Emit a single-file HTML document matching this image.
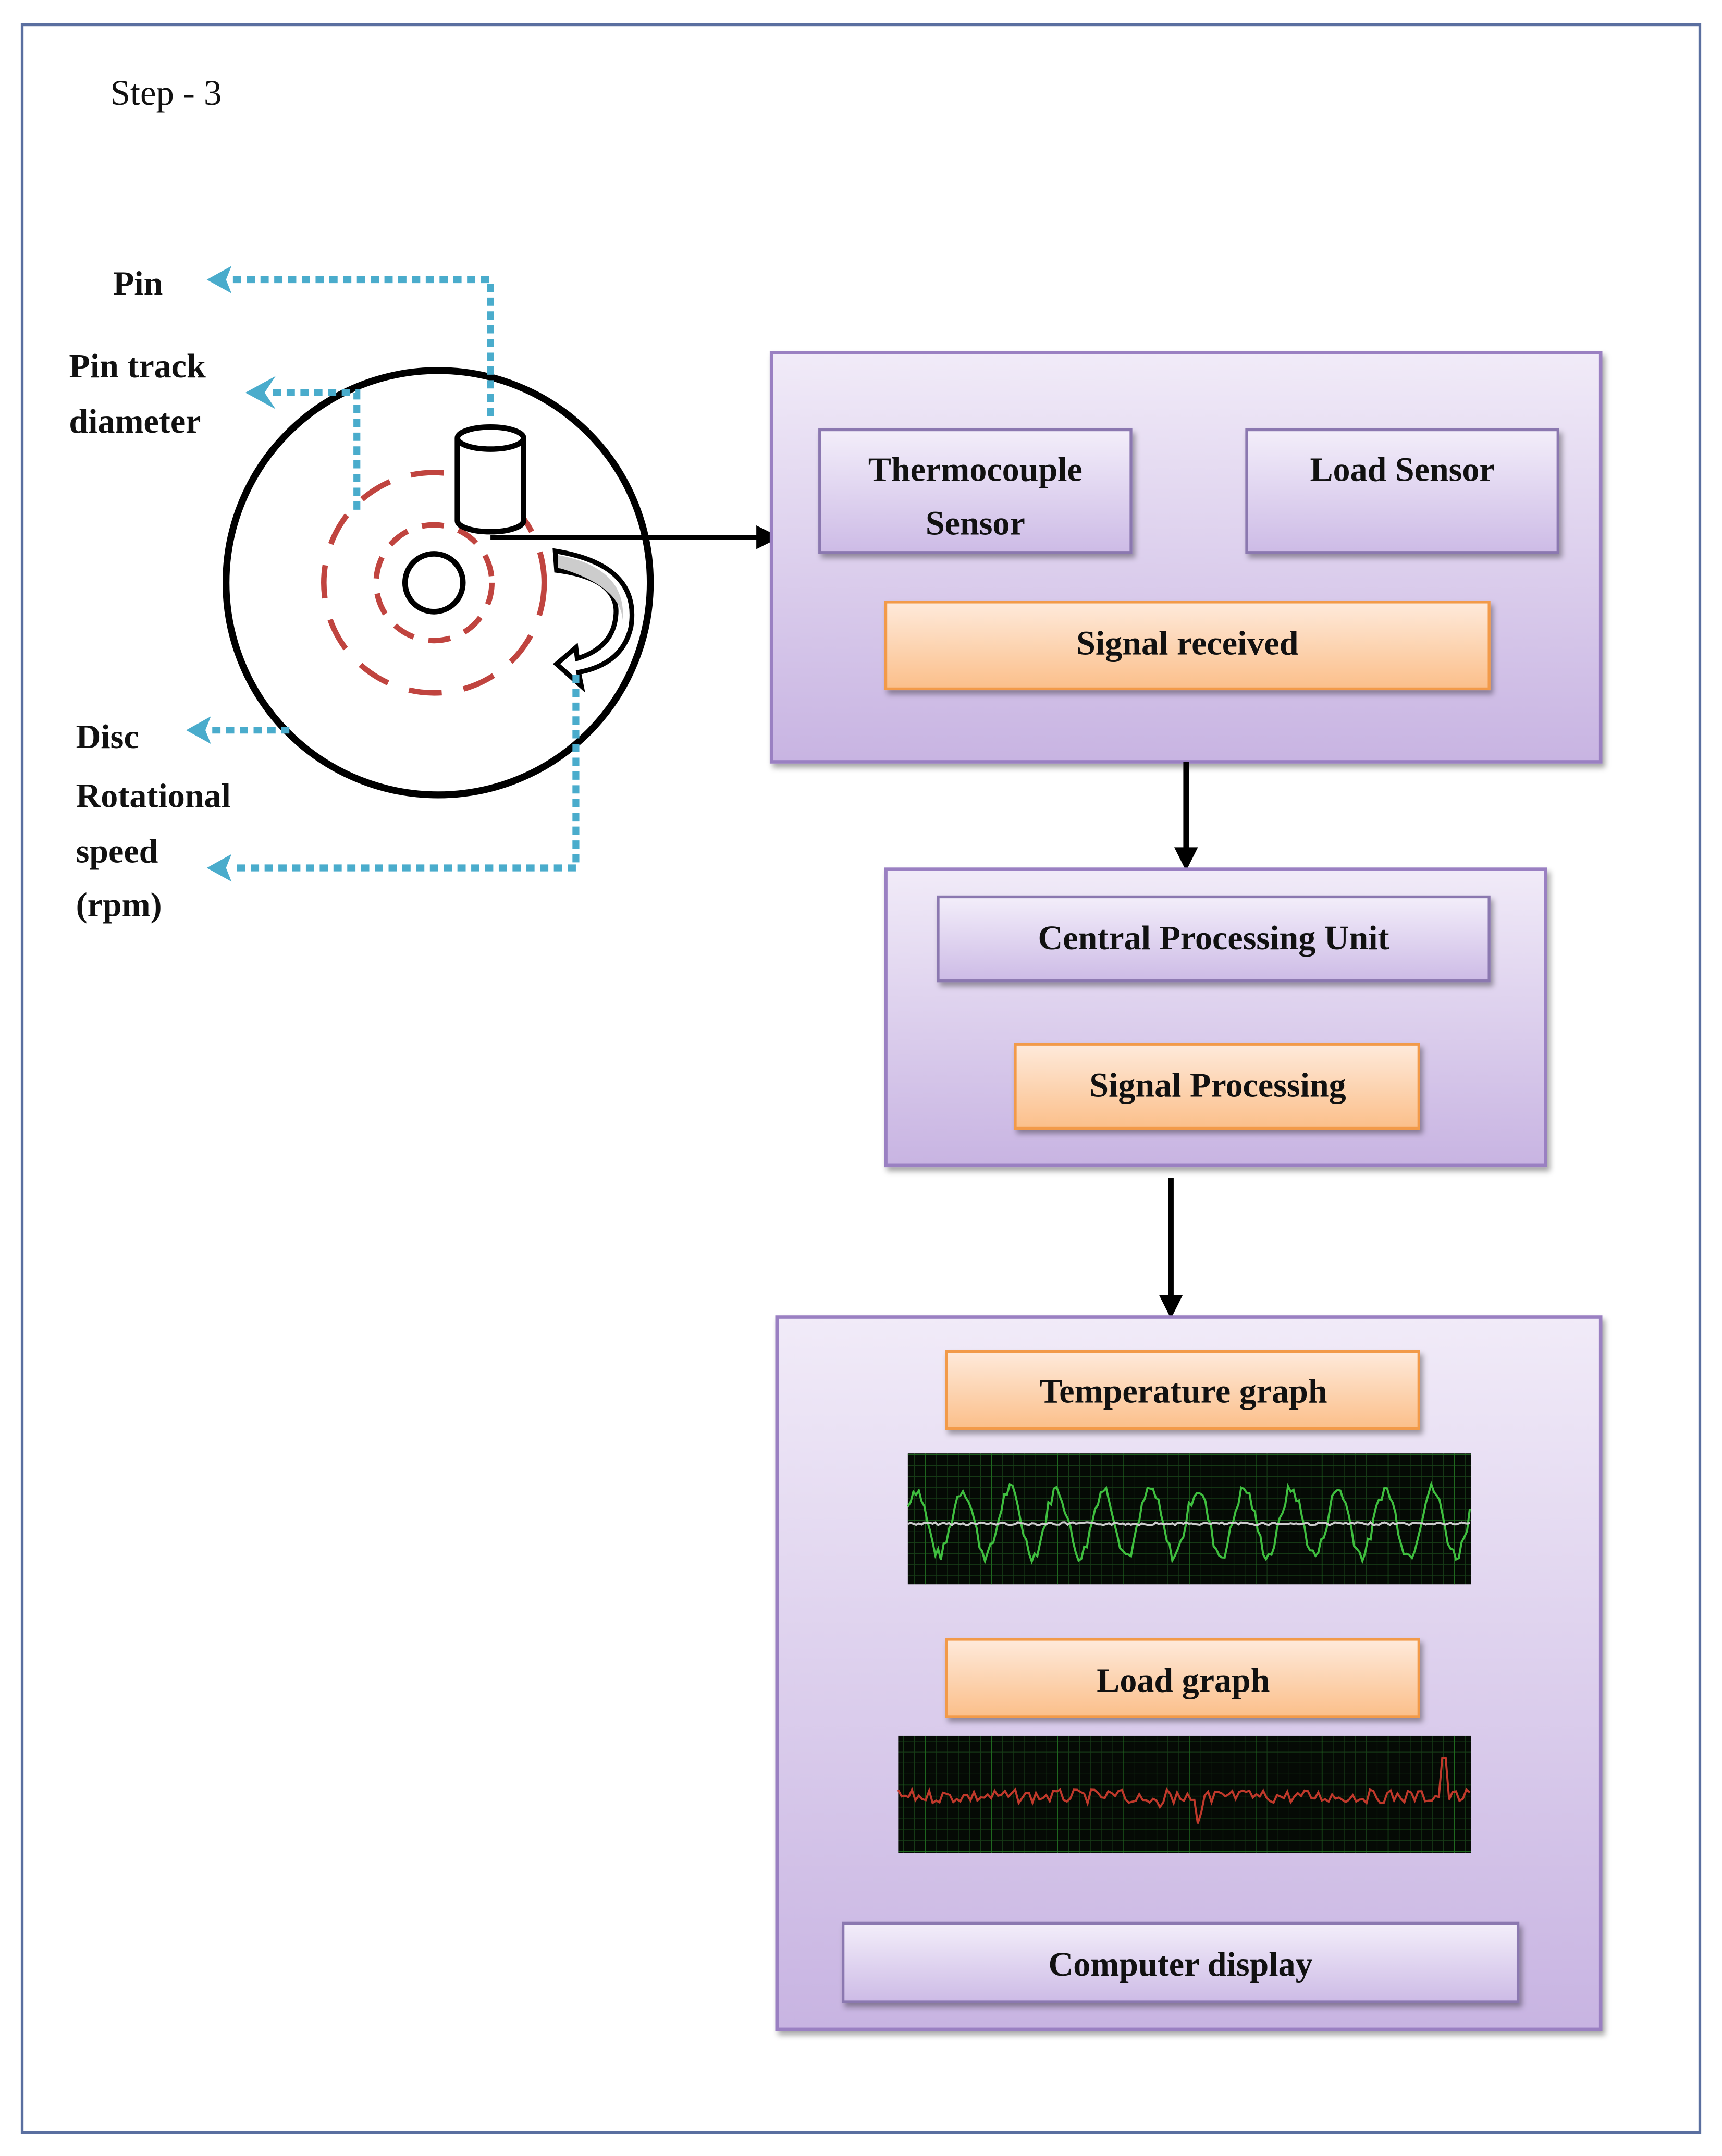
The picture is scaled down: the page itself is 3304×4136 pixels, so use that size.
<!DOCTYPE html>
<html><head><meta charset="utf-8"><style>
html,body{margin:0;padding:0;background:#fff}
svg{display:block}
text{font-family:"Liberation Serif",serif;font-weight:bold;fill:#111}
</style></head><body>
<svg width="3304" height="4136" viewBox="0 0 1250 1565" xmlns="http://www.w3.org/2000/svg">
<defs>
<linearGradient id="pur" x1="0" y1="0" x2="0" y2="1"><stop offset="0" stop-color="#f1ebf8"/><stop offset="1" stop-color="#c8b4e2"/></linearGradient>
<linearGradient id="pur2" x1="0" y1="0" x2="0" y2="1"><stop offset="0" stop-color="#f3eefa"/><stop offset="1" stop-color="#cdbbe6"/></linearGradient>
<linearGradient id="org" x1="0" y1="0" x2="0" y2="1"><stop offset="0" stop-color="#feeadb"/><stop offset="1" stop-color="#fbbf8a"/></linearGradient>
<pattern id="grid" width="8" height="8" patternUnits="userSpaceOnUse"><rect width="8" height="8" fill="#050a05"/><path d="M8 0V8M0 8H8" stroke="#173d17" stroke-width="0.8"/></pattern>
<pattern id="grid2" width="48" height="48" patternUnits="userSpaceOnUse"><path d="M48 0V48M0 48H48" stroke="#1f6a1f" stroke-width="1"/></pattern>
<filter id="sh" x="-5%" y="-5%" width="110%" height="120%"><feDropShadow dx="2" dy="3" stdDeviation="2" flood-color="#000" flood-opacity="0.35"/></filter>
</defs>
<rect x="16" y="18" width="1218" height="1530" fill="#fff" stroke="#5a6fa0" stroke-width="2"/>
<text x="80" y="76" font-size="26" style="font-weight:normal">Step - 3</text>

<circle cx="318" cy="423" r="154" fill="#fff" stroke="#000" stroke-width="5"/>
<circle cx="315" cy="423" r="80" fill="none" stroke="#c0443f" stroke-width="4" stroke-dasharray="24 16"/>
<circle cx="315" cy="423" r="42" fill="none" stroke="#c0443f" stroke-width="4" stroke-dasharray="16 11"/>
<circle cx="315" cy="423" r="21" fill="#fff" stroke="#000" stroke-width="4"/>
<path d="M332 318 V378 A24 8 0 0 0 380 378 V318" fill="#fff" stroke="#000" stroke-width="4"/>
<ellipse cx="356" cy="318" rx="24" ry="8" fill="#fff" stroke="#000" stroke-width="4"/>
<path d="M356 390 H552" stroke="#000" stroke-width="3.5"/>
<path d="M550 383 L564 390 L550 397Z" fill="#000" stroke="#000" stroke-width="2"/>
<path d="M403 400 Q465 410 458 455 Q452 482 420 488 L422 498 L404 482 L418 470 L419 478 Q445 470 447 447 Q450 420 404 414 Z" fill="#fff" stroke="#000" stroke-width="3.5"/>
<path d="M405 403 Q455 412 452 450 Q450 425 405 412Z" fill="#ccc"/>
<g stroke="#4aaccc" stroke-width="5" fill="none" stroke-dasharray="6 4">
<path d="M356 302 V203 H168"/>
<path d="M259 370 V285 H198"/>
<path d="M210 530 H152"/>
<path d="M418 490 V630 H168"/>
</g>
<g fill="#4aaccc">
<path d="M150 203 L168 193 L164 203 L168 213Z"/>
<path d="M178 285 L200 273 L192 285 L200 297Z"/>
<path d="M135 530 L153 520 L149 530 L153 540Z"/>
<path d="M150 630 L168 620 L164 630 L168 640Z"/>
</g>
<g font-size="25">
<text x="82" y="214">Pin</text>
<text x="50" y="274">Pin track</text>
<text x="50" y="314">diameter</text>
<text x="55" y="543">Disc</text>
<text x="55" y="586">Rotational</text>
<text x="55" y="626">speed</text>
<text x="55" y="665">(rpm)</text>
</g>

<rect x="560" y="256" width="602" height="297" fill="url(#pur)" stroke="#9a80c2" stroke-width="2.5" filter="url(#sh)"/>
<rect x="595" y="312" width="226" height="89" fill="url(#pur2)" stroke="#8b78b0" stroke-width="2" filter="url(#sh)"/>
<rect x="905" y="312" width="226" height="89" fill="url(#pur2)" stroke="#8b78b0" stroke-width="2" filter="url(#sh)"/>
<rect x="643" y="437" width="438" height="63" fill="url(#org)" stroke="#f29a4a" stroke-width="2" filter="url(#sh)"/>
<g font-size="25" text-anchor="middle">
<text x="708" y="349">Thermocouple</text>
<text x="708" y="388">Sensor</text>
<text x="1018" y="349">Load Sensor</text>
<text x="862" y="475">Signal received</text>
</g>
<path d="M861 553 V620" stroke="#000" stroke-width="4"/>
<path d="M854 616 L861 630 L868 616Z" fill="#000" stroke="#000" stroke-width="2"/>

<rect x="643" y="631" width="479" height="215" fill="url(#pur)" stroke="#9a80c2" stroke-width="2.5" filter="url(#sh)"/>
<rect x="681" y="651" width="400" height="61" fill="url(#pur2)" stroke="#8b78b0" stroke-width="2" filter="url(#sh)"/>
<rect x="737" y="758" width="293" height="61" fill="url(#org)" stroke="#f29a4a" stroke-width="2" filter="url(#sh)"/>
<g font-size="25" text-anchor="middle">
<text x="881" y="689">Central Processing Unit</text>
<text x="884" y="796">Signal Processing</text>
</g>
<path d="M850 855 V945" stroke="#000" stroke-width="4"/>
<path d="M843 941 L850 955 L857 941Z" fill="#000" stroke="#000" stroke-width="2"/>

<rect x="564" y="956" width="598" height="517" fill="url(#pur)" stroke="#9a80c2" stroke-width="2.5" filter="url(#sh)"/>
<rect x="687" y="981" width="343" height="56" fill="url(#org)" stroke="#f29a4a" stroke-width="2" filter="url(#sh)"/>
<rect x="687" y="1190" width="343" height="56" fill="url(#org)" stroke="#f29a4a" stroke-width="2" filter="url(#sh)"/>
<rect x="612" y="1396" width="490" height="57" fill="url(#pur2)" stroke="#8b78b0" stroke-width="2" filter="url(#sh)"/>
<g font-size="25" text-anchor="middle">
<text x="859" y="1018">Temperature graph</text>
<text x="859" y="1228">Load graph</text>
<text x="857" y="1434">Computer display</text>
</g>
<rect x="659" y="1055" width="409" height="95" fill="url(#grid)"/>
<rect x="659" y="1055" width="409" height="95" fill="url(#grid2)"/>
<rect x="652" y="1260" width="416" height="85" fill="url(#grid)"/>
<rect x="652" y="1260" width="416" height="85" fill="url(#grid2)"/>
<path id="g1" fill="none" stroke="#3fbf3f" stroke-width="1.5"/>
<path id="w1" fill="none" stroke="#ccc" stroke-width="1.5"/>
<path id="g2" fill="none" stroke="#c0392b" stroke-width="1.5"/>
</svg>
<script>
(function(){
var s=7,r=function(){s=(s*9301+49297)%233280;return s/233280;};
var d="",w="";
for(var x=659;x<=1068;x+=2){var t=(x-659)/409*12*2*Math.PI;var y=1105-Math.sin(t+0.5)*24-(r()-0.5)*10;d+=(x==659?"M":"L")+x+" "+y.toFixed(1);w+=(x==659?"M":"L")+x+" "+(1106+(r()-0.5)*2).toFixed(1);}
document.getElementById("g1").setAttribute("d",d);document.getElementById("w1").setAttribute("d",w);
var e="";
for(var x=652;x<=1068;x+=2.5){var y=1304+(r()-0.5)*10;
if(x>810&&x<880&&r()<0.25)y=1304+r()*25;
if(Math.abs(x-1048)<2)y=1276;
e+=(x==652?"M":"L")+x+" "+y.toFixed(1);}
document.getElementById("g2").setAttribute("d",e);
})();
</script>
</body></html>
